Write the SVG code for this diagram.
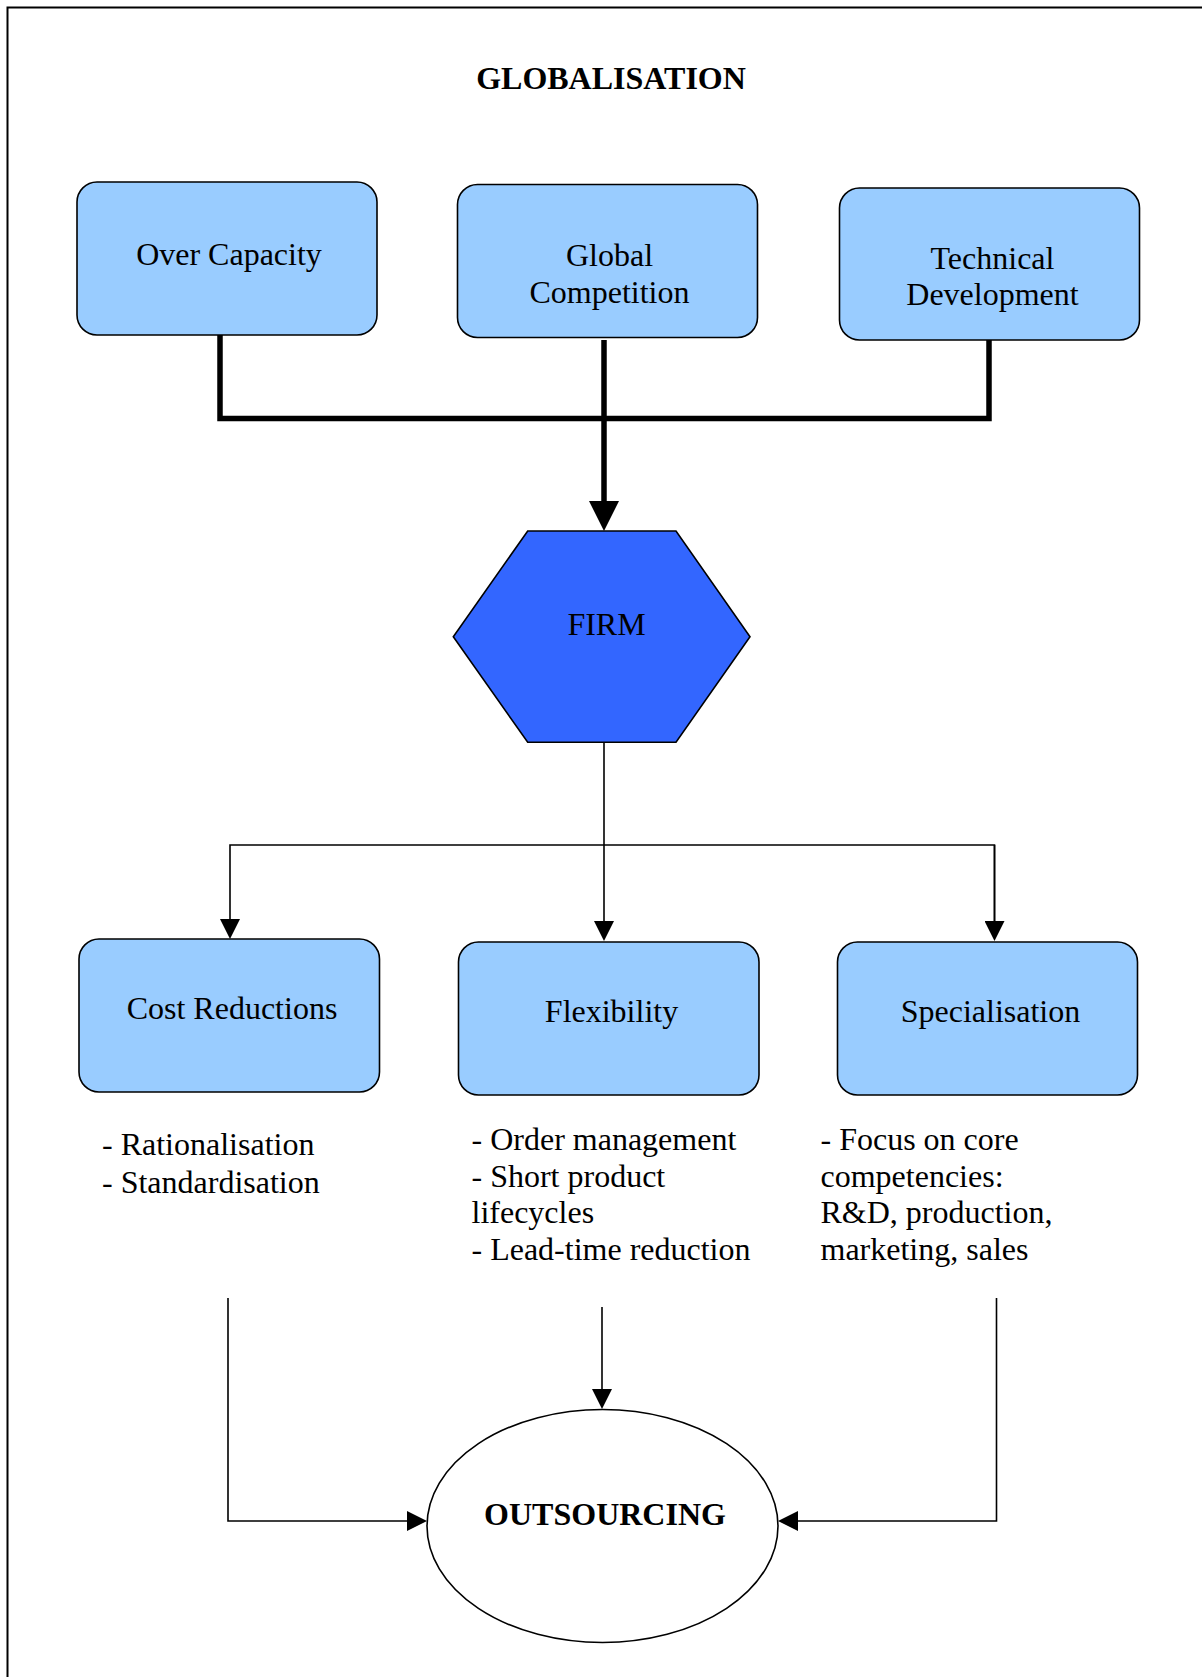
<svg xmlns="http://www.w3.org/2000/svg" width="1202" height="1677" viewBox="0 0 1202 1677">
  <style>
    text { font-family: "Liberation Serif", "Times New Roman", serif; font-size: 32px; fill: #000; }
    .title { font-weight: bold; }
    .c { text-anchor: middle; }
    .box { fill: #99CCFF; stroke: #000; stroke-width: 1.6; }
    .hex { fill: #3366FF; stroke: #000; stroke-width: 1.6; }
    .oval { fill: #fff; stroke: #000; stroke-width: 1.6; }
    .thick { fill: none; stroke: #000; stroke-width: 5.5; stroke-linejoin: miter; }
    .thin { fill: none; stroke: #000; stroke-width: 1.6; }
    .frame { fill: none; stroke: #000; stroke-width: 2; }
  </style>
  <defs>
    <marker id="arrowThick" viewBox="0 0 30 30" refX="0" refY="15" markerWidth="30" markerHeight="30" markerUnits="userSpaceOnUse" orient="auto">
      <path d="M0,0 L30,15 L0,30 z" fill="#000"/>
    </marker>
    <marker id="arrow" viewBox="0 0 20 20" refX="0" refY="10" markerWidth="20" markerHeight="20" markerUnits="userSpaceOnUse" orient="auto">
      <path d="M0,0 L20,10 L0,20 z" fill="#000"/>
    </marker>
  </defs>

  <rect width="1202" height="1677" fill="#fff"/>
  <!-- page frame (open on the right and bottom) -->
  <path class="frame" d="M7.5,1677 V7.5 H1202"/>

  <text class="title c" x="611" y="89">GLOBALISATION</text>

  <g id="connectors">
    <!-- heavy bus from the three drivers into the firm -->
    <path class="thick" d="M220,335 V418.5 H989 V340"/>
    <path class="thick" d="M604,340 V501" marker-end="url(#arrowThick)"/>
    <!-- firm to the three responses -->
    <path class="thin" d="M604,742 V921" marker-end="url(#arrow)"/>
    <path class="thin" d="M994.5,921 V845 H230 V919" marker-end="url(#arrow)"/>
    <path class="thin" d="M994.5,845 V921" marker-end="url(#arrow)"/>
    <!-- responses into outsourcing -->
    <path class="thin" d="M228,1298 V1521 H407" marker-end="url(#arrow)"/>
    <path class="thin" d="M602,1307 V1389" marker-end="url(#arrow)"/>
    <path class="thin" d="M996.5,1298 V1521 H798" marker-end="url(#arrow)"/>
  </g>

  <g id="over-capacity">
    <rect class="box" x="77" y="182" width="300" height="153" rx="20" ry="20"/>
    <text class="c" x="229" y="265">Over Capacity</text>
  </g>
  <g id="global-competition">
    <rect class="box" x="457.5" y="184.5" width="300" height="153" rx="20" ry="20"/>
    <text class="c" x="609.5" y="266">Global</text>
    <text class="c" x="609.5" y="303">Competition</text>
  </g>
  <g id="technical-development">
    <rect class="box" x="839.5" y="188" width="300" height="152" rx="20" ry="20"/>
    <text class="c" x="992.5" y="268.5">Technical</text>
    <text class="c" x="992.5" y="305">Development</text>
  </g>

  <g id="firm">
    <polygon class="hex" points="527.7,531 676,531 750,636.7 676,742.3 527.7,742.3 453.3,636.7"/>
    <text class="c" x="606.5" y="635">FIRM</text>
  </g>

  <g id="cost-reductions">
    <rect class="box" x="79" y="939" width="300.5" height="153" rx="20" ry="20"/>
    <text class="c" x="232" y="1019">Cost Reductions</text>
    <text x="102" y="1155">- Rationalisation</text>
    <text x="102" y="1192.5">- Standardisation</text>
  </g>
  <g id="flexibility">
    <rect class="box" x="458.5" y="942" width="300.5" height="153" rx="20" ry="20"/>
    <text class="c" x="611.5" y="1022">Flexibility</text>
    <text x="471.5" y="1149.5">- Order management</text>
    <text x="471.5" y="1186.5">- Short product</text>
    <text x="471.5" y="1223">lifecycles</text>
    <text x="471.5" y="1260">- Lead-time reduction</text>
  </g>
  <g id="specialisation">
    <rect class="box" x="837.5" y="942" width="300" height="153" rx="20" ry="20"/>
    <text class="c" x="990.5" y="1022">Specialisation</text>
    <text x="820.5" y="1149.5">- Focus on core</text>
    <text x="820.5" y="1186.5">competencies:</text>
    <text x="820.5" y="1223">R&amp;D, production,</text>
    <text x="820.5" y="1260">marketing, sales</text>
  </g>

  <g id="outsourcing">
    <ellipse class="oval" cx="602.5" cy="1526" rx="175.5" ry="116.5"/>
    <text class="title c" x="605" y="1525">OUTSOURCING</text>
  </g>
</svg>
